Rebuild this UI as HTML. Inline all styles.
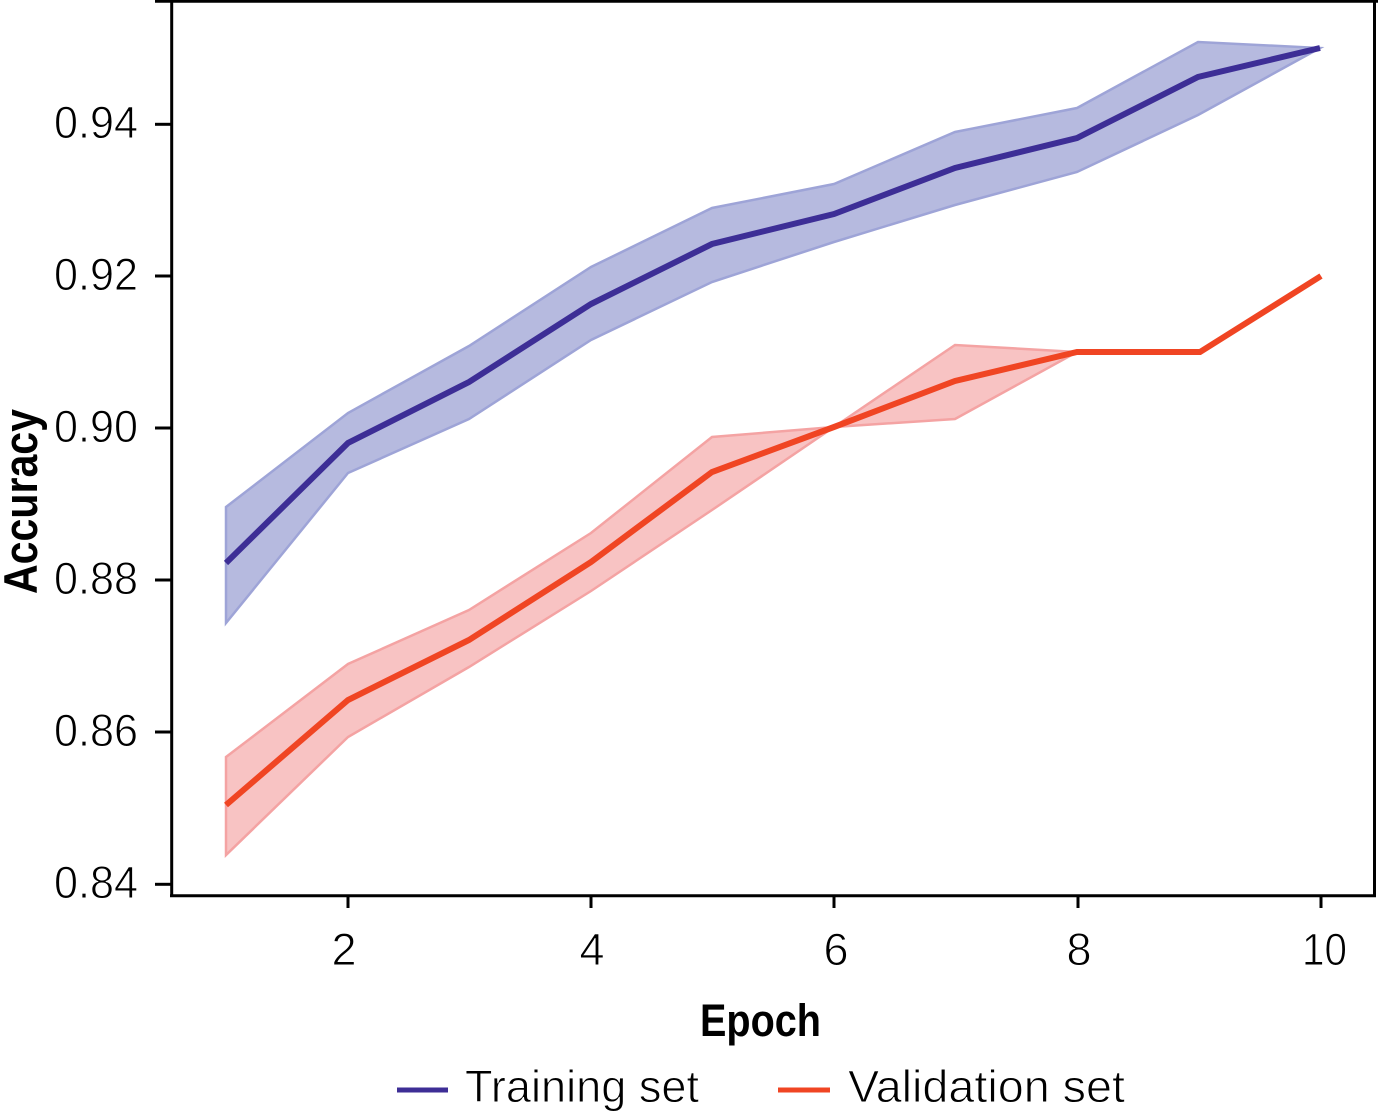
<!DOCTYPE html>
<html>
<head>
<meta charset="utf-8">
<style>
  html, body { margin:0; padding:0; background:#fff; }
  svg { display:block; }
</style>
</head>
<body>
<svg width="1378" height="1115" viewBox="0 0 1378 1115" xmlns="http://www.w3.org/2000/svg">
  <rect x="0" y="0" width="1378" height="1115" fill="#ffffff"/>

  <!-- Training band -->
  <polygon points="226,507 348,413 469,346 591,267 712,208 834,184 955,132 1077,108 1198,42 1320,48 1198,115 1077,172 955,205 834,242 712,282 591,340 469,419 348,473 226,623"
           fill="#b6badf" stroke="#9ea4d7" stroke-width="2.5" stroke-linejoin="miter"/>
  <!-- Validation band -->
  <polygon points="226,757 348,664 469,610 591,533 712,437 834,427 955,345 1077,352 1198,352 1320,276 1198,352 1077,352 955,419 834,427 712,510 591,591 469,667 348,737 226,855"
           fill="#f8c3c3" stroke="#f4a3a3" stroke-width="2.5" stroke-linejoin="miter"/>

  <!-- Training mean -->
  <polyline points="226,563 348,443 469,382 591,304 712,244 834,214 955,168 1077,138 1198,77 1320,48"
            fill="none" stroke="#3d2e96" stroke-width="6" stroke-linejoin="miter"/>
  <!-- Validation mean -->
  <polyline points="226,805 348,700 469,640 591,562 712,472 834,427 955,381 1077,352 1200,352 1321,276"
            fill="none" stroke="#f04523" stroke-width="6" stroke-linejoin="miter"/>

  <!-- Spines -->
  <line x1="155" y1="1.2" x2="1378" y2="1.2" stroke="#000" stroke-width="3"/>
  <line x1="171.7" y1="0" x2="171.7" y2="897" stroke="#000" stroke-width="3"/>
  <line x1="170" y1="895.7" x2="1376" y2="895.7" stroke="#000" stroke-width="3"/>
  <line x1="1374.5" y1="0" x2="1374.5" y2="897" stroke="#000" stroke-width="3"/>

  <!-- Y ticks -->
  <g stroke="#000" stroke-width="3">
    <line x1="155" y1="124.3" x2="171" y2="124.3"/>
    <line x1="155" y1="276" x2="171" y2="276"/>
    <line x1="155" y1="428" x2="171" y2="428"/>
    <line x1="155" y1="580" x2="171" y2="580"/>
    <line x1="155" y1="732" x2="171" y2="732"/>
    <line x1="155" y1="884.3" x2="171" y2="884.3"/>
  </g>
  <!-- X ticks -->
  <g stroke="#000" stroke-width="3">
    <line x1="348" y1="896" x2="348" y2="908"/>
    <line x1="591" y1="896" x2="591" y2="908"/>
    <line x1="834" y1="896" x2="834" y2="908"/>
    <line x1="1078" y1="896" x2="1078" y2="908"/>
    <line x1="1321" y1="896" x2="1321" y2="908"/>
  </g>

  <!-- Y tick labels -->
  <g font-family="'Liberation Sans', 'DejaVu Sans', sans-serif" font-size="45" fill="#000" stroke="#fff" stroke-width="0.9" text-anchor="end">
    <text x="138" y="138" textLength="84" lengthAdjust="spacingAndGlyphs">0.94</text>
    <text x="138" y="290" textLength="84" lengthAdjust="spacingAndGlyphs">0.92</text>
    <text x="138" y="442" textLength="84" lengthAdjust="spacingAndGlyphs">0.90</text>
    <text x="138" y="594" textLength="84" lengthAdjust="spacingAndGlyphs">0.88</text>
    <text x="138" y="746" textLength="84" lengthAdjust="spacingAndGlyphs">0.86</text>
    <text x="138" y="898" textLength="84" lengthAdjust="spacingAndGlyphs">0.84</text>
  </g>

  <!-- X tick labels -->
  <g font-family="'Liberation Sans', 'DejaVu Sans', sans-serif" font-size="45" fill="#000" stroke="#fff" stroke-width="0.9" text-anchor="middle">
    <text x="344" y="965">2</text>
    <text x="592" y="965">4</text>
    <text x="836" y="965">6</text>
    <text x="1079" y="965">8</text>
    <text x="1324.5" y="965" textLength="45" lengthAdjust="spacingAndGlyphs">10</text>
  </g>

  <!-- Axis labels -->
  <text x="700" y="1036" font-family="'Liberation Sans', 'DejaVu Sans', sans-serif" font-size="45" font-weight="bold" fill="#000" textLength="121" lengthAdjust="spacingAndGlyphs">Epoch</text>
  <text transform="translate(37,501.5) rotate(-90)" text-anchor="middle" font-family="'Liberation Sans', 'DejaVu Sans', sans-serif" font-size="47" font-weight="bold" fill="#000" textLength="185" lengthAdjust="spacingAndGlyphs">Accuracy</text>

  <!-- Legend -->
  <line x1="397" y1="1090" x2="448" y2="1090" stroke="#3d2e96" stroke-width="5"/>
  <text x="465" y="1102" font-family="'Liberation Sans', 'DejaVu Sans', sans-serif" font-size="45" fill="#000" stroke="#fff" stroke-width="0.9" textLength="234" lengthAdjust="spacingAndGlyphs">Training set</text>
  <line x1="778" y1="1090" x2="830" y2="1090" stroke="#f04523" stroke-width="5"/>
  <text x="848" y="1102" font-family="'Liberation Sans', 'DejaVu Sans', sans-serif" font-size="45" fill="#000" stroke="#fff" stroke-width="0.9" textLength="277" lengthAdjust="spacingAndGlyphs">Validation set</text>
</svg>
</body>
</html>
